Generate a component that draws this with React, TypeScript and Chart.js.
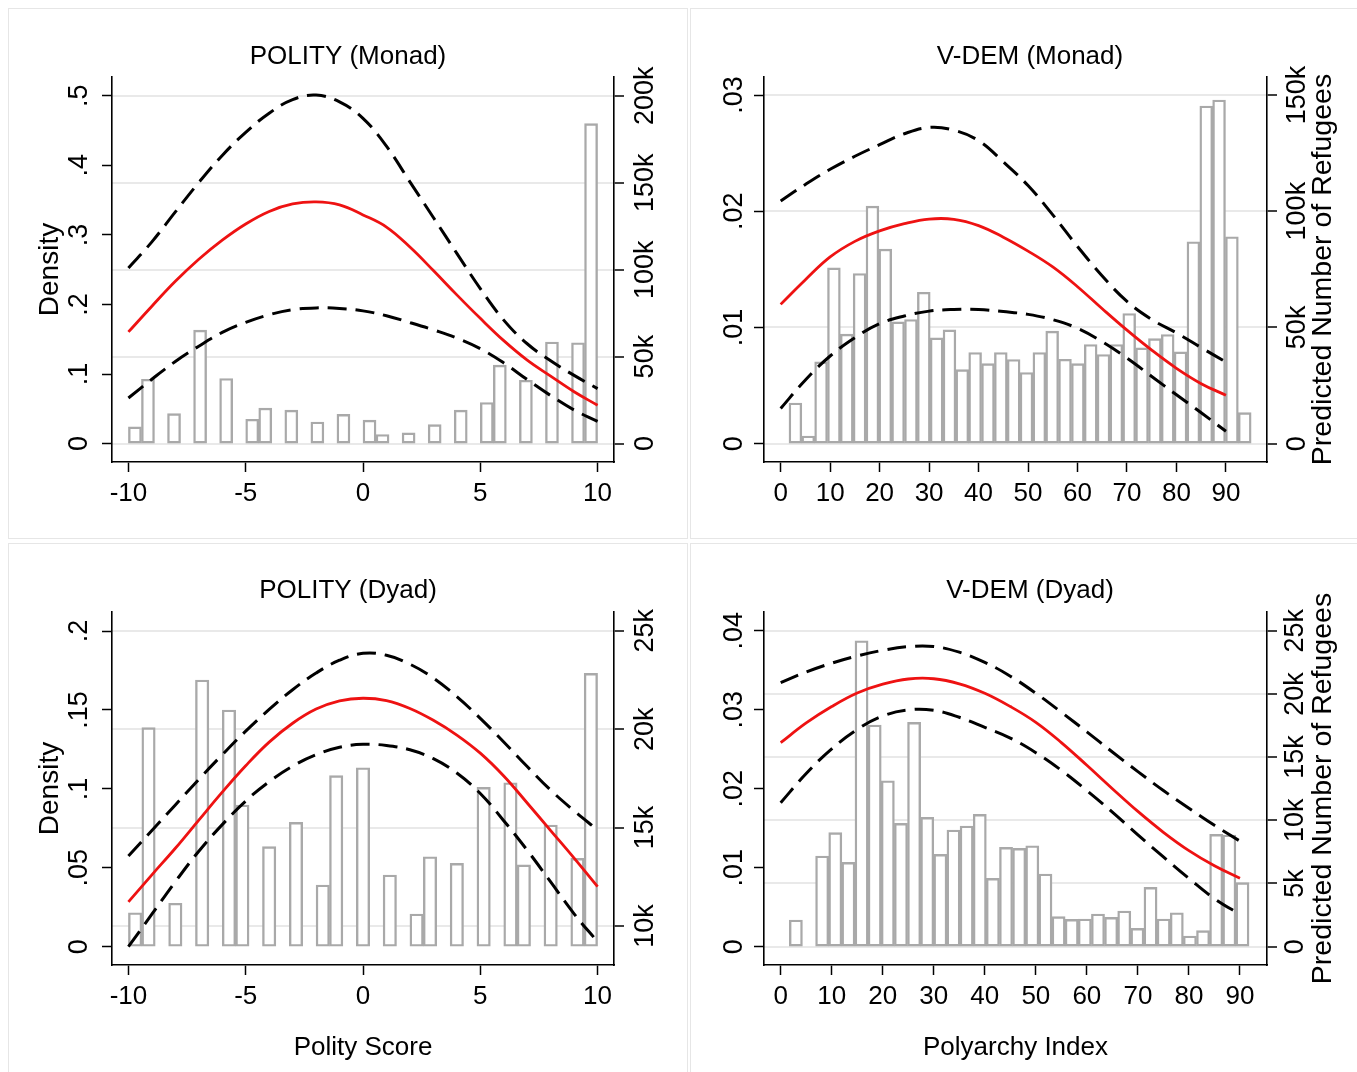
import React, { useEffect, useRef } from "react";
import { Chart, registerables } from "chart.js";

Chart.register(...registerables);

const FONT = "'Liberation Sans', Arial, Helvetica, sans-serif";

// ---------- shared x grids and ticks ----------
const polityGrid = [-10, -9, -8, -7, -6, -5, -4, -3, -2, -1, 0, 1, 2, 3, 4, 5, 6, 7, 8, 9, 10];
const vdemGrid = [0, 5, 10, 15, 20, 25, 30, 35, 40, 45, 50, 55, 60, 65, 70, 75, 80, 85, 90];

const polityXTicks = [-10, -5, 0, 5, 10];
const polityXTickLabels = ["-10", "-5", "0", "5", "10"];
const vdemXTicks = [0, 10, 20, 30, 40, 50, 60, 70, 80, 90];
const vdemXTickLabels = ["0", "10", "20", "30", "40", "50", "60", "70", "80", "90"];

// ---------- POLITY (Monad) ----------
const polityMonadBinStart = -10;
const polityMonadBinWidth = 20 / 36;
const polityMonadDensity = [
  0.024, 0.0925, null, 0.043, null, 0.163, null, 0.0935, null, 0.035, 0.051, null,
  0.048, null, 0.031, null, 0.042, null, 0.0336, 0.013, null, 0.0153, null, 0.0273,
  null, 0.048, null, 0.059, 0.1127, null, 0.091, null, 0.146, null, 0.145, 0.46,
];
// predicted refugees, thousands
const polityMonadPred = [64.2, 79, 93.3, 106, 117, 126.3, 133.5, 137.8, 139, 137.3, 131.5, 124.5, 113, 99.5, 85.5, 72, 59.2, 48, 38.8, 29.8, 22];
const polityMonadUpper = [101, 116, 133.2, 150.1, 165.7, 179, 190, 197.8, 200.4, 196.5, 187, 171, 150.5, 130, 109.4, 89.1, 71, 57.4, 47.6, 39.2, 31.6];
const polityMonadLower = [26.2, 37, 47.2, 56, 63.9, 69.7, 74.1, 77, 78, 77.7, 76.3, 73.5, 69.6, 65.4, 60.7, 54.6, 46.4, 36.8, 27.6, 19.3, 12.8];
const polityMonadYTicks = [0, 0.1, 0.2, 0.3, 0.4, 0.5];
const polityMonadYTickLabels = ["0", ".1", ".2", ".3", ".4", ".5"];
const polityMonadY1Ticks = [0, 50, 100, 150, 200];
const polityMonadY1TickLabels = ["0", "50k", "100k", "150k", "200k"];

// ---------- V-DEM (Monad) ----------
const vdemMonadBinStart = 1.68;
const vdemMonadBinWidth = 2.595;
const vdemMonadDensity = [
  0.0035, 0.00066, 0.00703, 0.01513, 0.00942, 0.01464, 0.02044, 0.01674, 0.01048, 0.01068,
  0.01303, 0.0091, 0.00979, 0.00637, 0.00784, 0.00689, 0.00784, 0.00724, 0.00612, 0.00784,
  0.00968, 0.00726, 0.00689, 0.00853, 0.00767, 0.00853, 0.0112, 0.00824, 0.00904, 0.00939,
  0.0079, 0.01737, 0.02905, 0.02957, 0.0178, 0.00267,
];
const vdemMonadPred = [59.9, 70.5, 80.3, 87, 91.5, 94.6, 96.6, 96.5, 93.8, 88.8, 82.8, 76, 67.5, 58, 48.8, 40.2, 32.4, 25.8, 20.8];
const vdemMonadUpper = [104.4, 111.5, 118, 123.6, 128.6, 133.3, 136, 134.8, 130.3, 121.2, 111, 98.4, 84.8, 72.1, 61.2, 53.4, 47.6, 41.3, 35.1];
const vdemMonadLower = [15.1, 27.4, 37.7, 45.6, 51.6, 54.9, 57, 57.7, 57.7, 56.8, 55.6, 53.3, 49.6, 43.8, 36.8, 28.9, 21, 13.3, 5.3];
const vdemMonadYTicks = [0, 0.01, 0.02, 0.03];
const vdemMonadYTickLabels = ["0", ".01", ".02", ".03"];
const vdemMonadY1Ticks = [0, 50, 100, 150];
const vdemMonadY1TickLabels = ["0", "50k", "100k", "150k"];

// ---------- POLITY (Dyad) ----------
const polityDyadBinStart = -10;
const polityDyadBinWidth = 20 / 35;
const polityDyadDensity = [
  0.0215, 0.1388, null, 0.0275, null, 0.169, null, 0.15, 0.0898, null, 0.0634, null,
  0.0788, null, 0.0391, 0.1084, null, 0.1134, null, 0.0454, null, 0.0207, 0.057, null,
  0.0528, null, 0.101, null, 0.1039, 0.0518, null, 0.0771, null, 0.056, 0.1732,
];
const polityDyadPred = [11.23, 12.6, 13.95, 15.38, 16.8, 18.14, 19.34, 20.3, 21.02, 21.44, 21.57, 21.45, 21.05, 20.45, 19.7, 18.78, 17.62, 16.25, 14.85, 13.45, 12.0];
const polityDyadUpper = [13.56, 14.85, 16.15, 17.45, 18.7, 19.9, 21.0, 22.0, 22.85, 23.5, 23.85, 23.75, 23.3, 22.6, 21.65, 20.55, 19.35, 18.1, 16.9, 15.85, 14.88];
const polityDyadLower = [8.95, 10.6, 12.25, 13.8, 15.15, 16.35, 17.33, 18.12, 18.7, 19.08, 19.23, 19.17, 18.95, 18.5, 17.77, 16.73, 15.35, 13.85, 12.24, 10.62, 9.2];
const polityDyadYTicks = [0, 0.05, 0.1, 0.15, 0.2];
const polityDyadYTickLabels = ["0", ".05", ".1", ".15", ".2"];
const polityDyadY1Ticks = [10, 15, 20, 25];
const polityDyadY1TickLabels = ["10k", "15k", "20k", "25k"];

// ---------- V-DEM (Dyad) ----------
const vdemDyadBinStart = 1.69;
const vdemDyadBinWidth = 2.574;
const vdemDyadDensity = [
  0.00338, null, 0.01148, 0.01443, 0.01067, 0.03873, 0.02806, 0.02101, 0.01561, 0.0284,
  0.01637, 0.01169, 0.01477, 0.01528, 0.01675, 0.00865, 0.01257, 0.01245, 0.01278, 0.0092,
  0.0038, 0.00346, 0.0035, 0.00414, 0.00371, 0.00452, 0.00232, 0.00751, 0.0035, 0.0043,
  0.00135, 0.00203, 0.01422, 0.01414, 0.0081,
];
const vdemDyadPred = [16.14, 17.7, 19.0, 20.07, 20.77, 21.18, 21.2, 20.8, 20.05, 19.0, 17.75, 16.15, 14.35, 12.5, 10.7, 9.05, 7.6, 6.4, 5.41];
const vdemDyadUpper = [20.89, 21.73, 22.43, 23.0, 23.45, 23.74, 23.75, 23.3, 22.5, 21.4, 20.05, 18.55, 17.0, 15.4, 13.85, 12.35, 10.95, 9.6, 8.35];
const vdemDyadLower = [11.39, 13.7, 15.65, 17.19, 18.25, 18.73, 18.7, 18.15, 17.35, 16.5, 15.35, 13.95, 12.35, 10.65, 8.85, 7.1, 5.4, 3.8, 2.55];
const vdemDyadYTicks = [0, 0.01, 0.02, 0.03, 0.04];
const vdemDyadYTickLabels = ["0", ".01", ".02", ".03", ".04"];
const vdemDyadY1Ticks = [0, 5, 10, 15, 20, 25];
const vdemDyadY1TickLabels = ["0", "5k", "10k", "15k", "20k", "25k"];

// ---------- layout ----------
const CW = 680;
const CH = 532;

function binsToPoints(start: number, width: number, heights: (number | null)[]) {
  const pts: { x: number; y: number }[] = [];
  heights.forEach((h, i) => {
    if (h !== null) pts.push({ x: start + (i + 0.5) * width, y: h });
  });
  return pts;
}

const rightTitlePlugin = {
  id: "rightTitle",
  afterDraw(chart: any, _args: any, opts: any) {
    if (!opts || !opts.text) return;
    const { ctx, chartArea } = chart;
    ctx.save();
    ctx.translate(chartArea.right + opts.offset, (chartArea.top + chartArea.bottom) / 2);
    ctx.rotate(-Math.PI / 2);
    ctx.font = `${opts.size}px ${FONT}`;
    ctx.fillStyle = "#000";
    ctx.textAlign = "center";
    ctx.textBaseline = "middle";
    ctx.fillText(opts.text, 0, 0);
    ctx.restore();
  },
};

const panels = [
  {
    key: "pm", title: "POLITY (Monad)", left: 8, top: 8,
    binStart: polityMonadBinStart, binWidth: polityMonadBinWidth, density: polityMonadDensity,
    grid: polityGrid, pred: polityMonadPred, upper: polityMonadUpper, lower: polityMonadLower,
    xMin: -10.7, xMax: 10.7, xTicks: polityXTicks, xTickLabels: polityXTickLabels,
    yMin: -0.0265, yMax: 0.527, yTicks: polityMonadYTicks, yTickLabels: polityMonadYTickLabels,
    y1Min: -10.6, y1Max: 210.8, y1Ticks: polityMonadY1Ticks, y1TickLabels: polityMonadY1TickLabels,
    yTitle: "Density", y1Title: "", xTitle: "",
    yWidth: 104, y1Width: 74, xHeight: 78, titleTop: 33.2, titleBottom: 4.6,
    yTickPad: 11, y1TickPad: -8, xTickPad: 6,
  },
  {
    key: "vm", title: "V-DEM (Monad)", left: 690, top: 8,
    binStart: vdemMonadBinStart, binWidth: vdemMonadBinWidth, density: vdemMonadDensity,
    grid: vdemGrid, pred: vdemMonadPred, upper: vdemMonadUpper, lower: vdemMonadLower,
    xMin: -3.37, xMax: 98.3, xTicks: vdemXTicks, xTickLabels: vdemXTickLabels,
    yMin: -0.00158, yMax: 0.03155, yTicks: vdemMonadYTicks, yTickLabels: vdemMonadYTickLabels,
    y1Min: -7.9, y1Max: 157.7, y1Ticks: vdemMonadY1Ticks, y1TickLabels: vdemMonadY1TickLabels,
    yTitle: "", y1Title: "Predicted Number of Refugees", xTitle: "",
    yWidth: 74, y1Width: 103, xHeight: 78, titleTop: 33.2, titleBottom: 4.6,
    yTickPad: 0.3, y1TickPad: -9, xTickPad: 6,
  },
  {
    key: "pd", title: "POLITY (Dyad)", left: 8, top: 543,
    binStart: polityDyadBinStart, binWidth: polityDyadBinWidth, density: polityDyadDensity,
    grid: polityGrid, pred: polityDyadPred, upper: polityDyadUpper, lower: polityDyadLower,
    xMin: -10.7, xMax: 10.7, xTicks: polityXTicks, xTickLabels: polityXTickLabels,
    yMin: -0.0116, yMax: 0.2121, yTicks: polityDyadYTicks, yTickLabels: polityDyadYTickLabels,
    y1Min: 8.02, y1Max: 25.95, y1Ticks: polityDyadY1Ticks, y1TickLabels: polityDyadY1TickLabels,
    yTitle: "Density", y1Title: "", xTitle: "Polity Score",
    yWidth: 104, y1Width: 74, xHeight: 110, titleTop: 32.4, titleBottom: 5.4,
    yTickPad: 3.6, y1TickPad: -0.5, xTickPad: 6,
  },
  {
    key: "vd", title: "V-DEM (Dyad)", left: 690, top: 543,
    binStart: vdemDyadBinStart, binWidth: vdemDyadBinWidth, density: vdemDyadDensity,
    grid: vdemGrid, pred: vdemDyadPred, upper: vdemDyadUpper, lower: vdemDyadLower,
    xMin: -3.27, xMax: 95.3, xTicks: vdemXTicks, xTickLabels: vdemXTickLabels,
    yMin: -0.00232, yMax: 0.04237, yTicks: vdemDyadYTicks, yTickLabels: vdemDyadYTickLabels,
    y1Min: -1.45, y1Max: 26.48, y1Ticks: vdemDyadY1Ticks, y1TickLabels: vdemDyadY1TickLabels,
    yTitle: "", y1Title: "Predicted Number of Refugees", xTitle: "Polyarchy Index",
    yWidth: 74, y1Width: 103, xHeight: 110, titleTop: 32.4, titleBottom: 5.4,
    yTickPad: 0.2, y1TickPad: -3, xTickPad: 6,
  },
];

function lineDataset(xs: number[], ys: number[], color: string, width: number, dash: number[]) {
  return {
    type: "line",
    data: xs.map((x, i) => ({ x, y: ys[i] })),
    xAxisID: "x",
    yAxisID: "y1",
    borderColor: color,
    borderWidth: width,
    borderDash: dash,
    pointRadius: 0,
    fill: false,
    tension: 0.4,
    order: 0,
  };
}

function buildConfig(s: any): any {
  const hTick = { family: FONT, size: 26 };
  const vTick = { family: FONT, size: 27 };
  const dash = [19, 9];
  return {
    type: "bar",
    data: {
      datasets: [
        lineDataset(s.grid, s.upper, "#000000", 3, dash),
        lineDataset(s.grid, s.pred, "rgb(238,18,18)", 2.8, []),
        lineDataset(s.grid, s.lower, "#000000", 3, dash),
        {
          type: "bar",
          data: binsToPoints(s.binStart, s.binWidth, s.density),
          xAxisID: "x",
          yAxisID: "y",
          backgroundColor: "#ffffff",
          borderColor: "#a9a9a9",
          borderWidth: 2.4,
          borderSkipped: false,
          categoryPercentage: 1,
          barPercentage: 1,
          order: 1,
        },
      ],
    },
    options: {
      responsive: false,
      animation: false,
      devicePixelRatio: 1,
      events: [],
      layout: { padding: 0 },
      plugins: {
        legend: { display: false },
        tooltip: { enabled: false },
        title: {
          display: true,
          text: s.title,
          color: "#000",
          font: { family: FONT, size: 26, weight: "normal" },
          padding: { top: s.titleTop, bottom: s.titleBottom },
        },
        rightTitle: { text: s.y1Title, offset: 56.5, size: 28.5 },
      },
      scales: {
        x: {
          type: "linear",
          position: "bottom",
          min: s.xMin,
          max: s.xMax,
          offset: false,
          grid: { display: true, drawOnChartArea: false, offset: false, tickLength: 10, tickColor: "#000", tickWidth: 1.5 },
          border: { display: true, color: "#000", width: 1.6 },
          ticks: {
            font: hTick, color: "#000", padding: s.xTickPad, autoSkip: false, maxRotation: 0, minRotation: 0,
            callback: (_v: any, i: number) => s.xTickLabels[i],
          },
          afterBuildTicks: (sc: any) => { sc.ticks = s.xTicks.map((v: number) => ({ value: v })); },
          afterFit: (sc: any) => { sc.height = s.xHeight; },
          title: {
            display: !!s.xTitle, text: s.xTitle, color: "#000",
            font: { family: FONT, size: 26 }, padding: { top: 0, bottom: 11.8 },
          },
        },
        y: {
          type: "linear",
          position: "left",
          min: s.yMin,
          max: s.yMax,
          grid: { display: true, drawOnChartArea: false, tickLength: 10, tickColor: "#000", tickWidth: 1.5 },
          border: { display: true, color: "#000", width: 1.6 },
          ticks: {
            font: vTick, color: "#000", padding: s.yTickPad, minRotation: 90, maxRotation: 90, crossAlign: "center", autoSkip: false,
            callback: (_v: any, i: number) => s.yTickLabels[i],
          },
          afterBuildTicks: (sc: any) => { sc.ticks = s.yTicks.map((v: number) => ({ value: v })); },
          afterFit: (sc: any) => { sc.width = s.yWidth; },
          title: {
            display: !!s.yTitle, text: s.yTitle, color: "#000",
            font: { family: FONT, size: 28 }, padding: { top: 25.8, bottom: 0 },
          },
        },
        y1: {
          type: "linear",
          position: "right",
          min: s.y1Min,
          max: s.y1Max,
          grid: { display: true, drawOnChartArea: true, color: "#e9e9e9", lineWidth: 2, tickLength: 10, tickColor: "#000", tickWidth: 1.5 },
          border: { display: true, color: "#000", width: 1.6 },
          ticks: {
            font: vTick, color: "#000", padding: s.y1TickPad, minRotation: 90, maxRotation: 90, crossAlign: "center", autoSkip: false,
            callback: (_v: any, i: number) => s.y1TickLabels[i],
          },
          afterBuildTicks: (sc: any) => { sc.ticks = s.y1Ticks.map((v: number) => ({ value: v })); },
          afterFit: (sc: any) => { sc.width = s.y1Width; },
        },
      },
    },
    plugins: [rightTitlePlugin],
  };
}

function ChartPanel({ spec }: { spec: any }) {
  const ref = useRef<HTMLCanvasElement | null>(null);
  useEffect(() => {
    if (!ref.current) return;
    const chart = new Chart(ref.current, buildConfig(spec));
    return () => chart.destroy();
  }, [spec]);
  return (
    <canvas
      ref={ref}
      width={CW}
      height={CH}
      style={{ position: "absolute", left: spec.left, top: spec.top, width: CW, height: CH }}
    />
  );
}

export default function App() {
  return (
    <div
      style={{
        position: "absolute", left: 0, top: 0, width: 1357, height: 1072,
        overflow: "hidden", background: "#ffffff",
      }}
    >
      {panels.map((p) => (
        <div
          key={p.key + "-box"}
          style={{
            position: "absolute", left: p.left, top: p.top, width: CW, height: CH - 1,
            border: "1px solid #e6e6e6", boxSizing: "border-box", background: "#fff",
          }}
        />
      ))}
      {panels.map((p) => (
        <ChartPanel key={p.key} spec={p} />
      ))}
    </div>
  );
}
